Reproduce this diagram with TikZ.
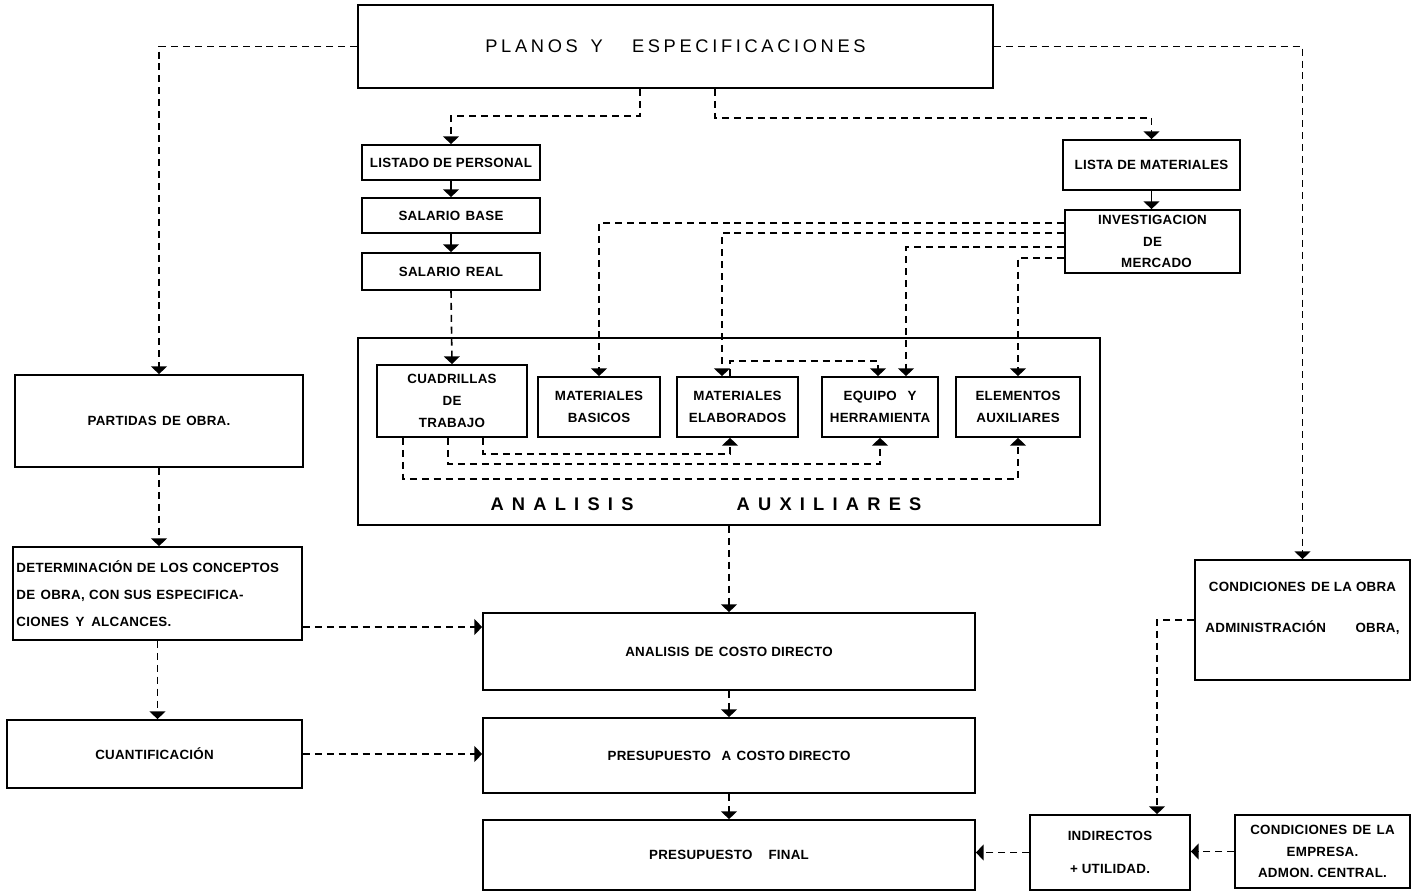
\documentclass[tikz,border=0pt]{standalone}
\usepackage{fontspec}
\setmainfont{Liberation Sans}
\newfontfamily\boxfont[LetterSpace=2]{Liberation Sans}
\newfontfamily\titlefont[LetterSpace=20]{Liberation Sans}
\newfontfamily\auxfont[LetterSpace=45]{Liberation Sans}
\usetikzlibrary{arrows.meta}

\tikzset{
	box/.style={draw, line width=0.5pt, inner sep=0.5pt, align=center,
		font=\boxfont\bfseries\fontsize{3.8}{6.2}\selectfont},
	dashlink/.style={line width=0.45pt, dash pattern=on 2pt off 1.4pt,
		-{Triangle[width=4.5pt,length=2.2pt]}},
	solidlink/.style={line width=0.45pt, -{Triangle[width=4.5pt,length=2.2pt]}}
}

\begin{document}
\begin{tikzpicture}
			\useasboundingbox (0,0) rectangle (14.27,-8.93);
			
			% Top
			\node[box, minimum width=6.35cm, minimum height=0.83cm,
				font=\titlefont\fontsize{5.2}{6}\selectfont] (planos) at (6.755,-0.465)
				{PLANOS\hspace{0.7em}Y\hspace{1.6em}ESPECIFICACIONES};
			
			% Personal (left branch)
			\node[box, minimum width=1.78cm, minimum height=0.35cm] (listado) at (4.51,-1.625) {LISTADO DE PERSONAL};
			\node[box, minimum width=1.78cm, minimum height=0.35cm] (salbase) at (4.51,-2.155) {SALARIO\hspace{0.4em}BASE};
			\node[box, minimum width=1.78cm, minimum height=0.37cm] (salreal) at (4.51,-2.715) {SALARIO\hspace{0.4em}REAL};
			
			% Materiales (right branch)
			\node[box, minimum width=1.77cm, minimum height=0.50cm] (listamat) at (11.515,-1.65) {LISTA DE MATERIALES};
			\node[box, minimum width=1.75cm, minimum height=0.63cm] (inv) at (11.525,-2.415) {INVESTIGACION\\DE\\\hspace{0.6em}MERCADO};
			
			% Analisis auxiliares
			\node[draw, line width=0.5pt, minimum width=7.42cm, minimum height=1.87cm] (aux) at (7.29,-4.315) {};
			\node[box, minimum width=1.50cm, minimum height=0.72cm] (cuad) at (4.52,-4.01) {CUADRILLAS\\DE\\TRABAJO};
			\node[box, minimum width=1.22cm, minimum height=0.60cm] (matbas) at (5.99,-4.07) {MATERIALES\\BASICOS};
			\node[box, minimum width=1.21cm, minimum height=0.60cm] (matelab) at (7.375,-4.07) {MATERIALES\\ELABORADOS};
			\node[box, minimum width=1.16cm, minimum height=0.60cm] (equipo) at (8.80,-4.07) {EQUIPO\hspace{0.8em}Y\\HERRAMIENTA};
			\node[box, minimum width=1.24cm, minimum height=0.60cm] (elem) at (10.18,-4.07) {ELEMENTOS\\AUXILIARES};
			\node[font=\auxfont\bfseries\fontsize{5.2}{6}\selectfont, inner sep=0pt] (auxa) at (5.62,-5.04) {ANALISIS};
			\node[font=\auxfont\bfseries\fontsize{5.2}{6}\selectfont, inner sep=0pt] (auxb) at (8.29,-5.04) {AUXILIARES};
			
			% Left column
			\node[box, minimum width=2.88cm, minimum height=0.92cm] (partidas) at (1.59,-4.21) {PARTIDAS\hspace{0.4em}DE\hspace{0.4em}OBRA.};
			\node[box, minimum width=2.89cm, minimum height=0.93cm, text width=2.82cm, align=left,
				font=\boxfont\bfseries\fontsize{3.8}{7.7}\selectfont] (determ) at (1.575,-5.935)
				{DETERMINACIÓN DE LOS CONCEPTOS\\DE\hspace{0.4em}OBRA, CON SUS ESPECIFICA-\\CIONES\hspace{0.5em}Y\hspace{0.5em}ALCANCES.};
			\node[box, minimum width=2.95cm, minimum height=0.68cm] (cuant) at (1.545,-7.54) {CUANTIFICACIÓN};
			
			% Center column
			\node[box, minimum width=4.92cm, minimum height=0.77cm] (costo) at (7.29,-6.515) {ANALISIS\hspace{0.4em}DE\hspace{0.4em}COSTO DIRECTO};
			\node[box, minimum width=4.92cm, minimum height=0.75cm] (pcd) at (7.29,-7.555) {PRESUPUESTO\hspace{0.8em}A\hspace{0.4em}COSTO DIRECTO};
			\node[box, minimum width=4.92cm, minimum height=0.70cm] (final) at (7.29,-8.55) {PRESUPUESTO\hspace{1.2em}FINAL};
			
			% Right column
			\node[box, minimum width=2.15cm, minimum height=1.20cm] (condobra) at (13.025,-6.20)
				{CONDICIONES\hspace{0.4em}DE LA OBRA\\[5.5pt]ADMINISTRACIÓN\hspace{2.2em}OBRA,\\[1pt]};
			\node[box, minimum width=1.60cm, minimum height=0.75cm] (indir) at (11.10,-8.525) {INDIRECTOS\\[3.2pt]+ UTILIDAD.};
			\node[box, minimum width=1.75cm, minimum height=0.73cm] (empresa) at (13.225,-8.515)
				{CONDICIONES\hspace{0.4em}DE\hspace{0.4em}LA\\EMPRESA.\\ADMON.\hspace{0.3em}CENTRAL.};
			
			% Connectors from the top box
			\draw[dashlink] ([xshift=-3.55mm]planos.south) -- ++(0,-0.27) -| (listado.north);
			\draw[dashlink] ([xshift=3.95mm]planos.south) -- ++(0,-0.29) -| (listamat.north);
			\draw[dashlink] (planos.west) -| (partidas.north);
			\draw[dashlink] (planos.east) -| (condobra.north);
			
			% Personal chain
			\draw[solidlink] (listado.south) -- (salbase.north);
			\draw[solidlink] (salbase.south) -- (salreal.north);
			\draw[dashlink] (salreal.south) -- (cuad.north);
			
			% Materiales chain
			\draw[solidlink] (listamat.south) -- (listamat.south |- inv.north);
			\draw[dashlink] ([yshift=1.85mm]inv.west) -| (matbas.north);
			\draw[dashlink] ([yshift=0.85mm]inv.west) -| ([xshift=-1.55mm]matelab.north);
			\draw[dashlink] ([yshift=-0.55mm]inv.west) -| ([xshift=2.6mm]equipo.north);
			\draw[dashlink] ([yshift=-1.65mm]inv.west) -| (elem.north);
			
			% Inside the auxiliary box
			\draw[dashlink] ([xshift=-0.75mm]matelab.north) -- ++(0,0.15) -| ([xshift=-0.2mm]equipo.north);
			\draw[dashlink] ([xshift=3.1mm]cuad.south) -- ++(0,-0.16) -| ([xshift=-0.75mm]matelab.south);
			\draw[dashlink] ([xshift=-0.4mm]cuad.south) -- ++(0,-0.26) -| (equipo.south);
			\draw[dashlink] ([xshift=-4.9mm]cuad.south) -- ++(0,-0.41) -| (elem.south);
			
			% Left column
			\draw[dashlink] (partidas.south) -- (partidas.south |- determ.north);
			\draw[dashlink] (determ.south) -- (determ.south |- cuant.north);
			\coordinate (dout) at ([yshift=-3.35mm]determ.east);
			\draw[dashlink] (dout) -- (dout -| costo.west);
			\draw[dashlink] (cuant.east) -- (cuant.east -| pcd.west);
			
			% Center column
			\draw[dashlink] (aux.south) -- (costo.north);
			\draw[dashlink] (costo.south) -- (pcd.north);
			\draw[dashlink] (pcd.south) -- (final.north);
			
			% Right column
			\draw[dashlink] (condobra.west) -| ([xshift=4.7mm]indir.north);
			\draw[dashlink] (empresa.west) -- (empresa.west -| indir.east);
			\draw[dashlink] (indir.west) -- (indir.west -| final.east);
			
		\end{tikzpicture}
\end{document}
